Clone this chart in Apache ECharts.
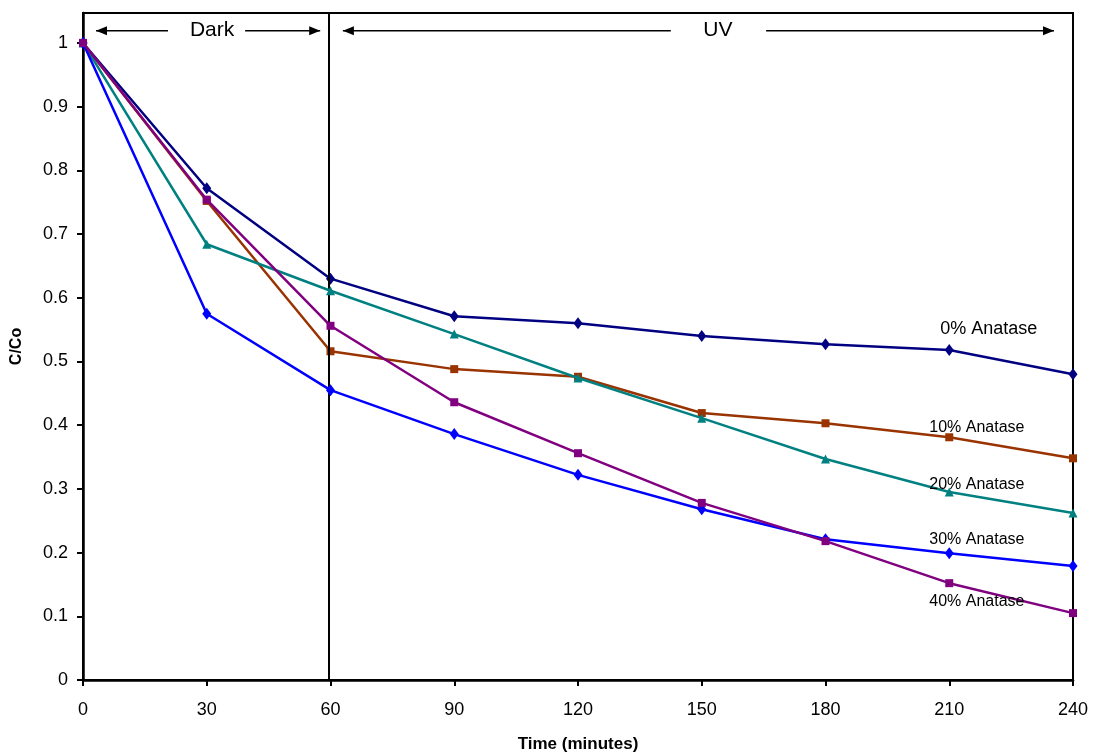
<!DOCTYPE html>
<html>
<head>
<meta charset="utf-8">
<title>C/Co vs time</title>
<script src="https://cdn.jsdelivr.net/npm/echarts@6/dist/echarts.min.js"></script>
<style>
  html, body { margin: 0; padding: 0; background: #ffffff; }
  #chart { width: 1093px; height: 752px; }
</style>
</head>
<body>
<div id="chart"></div>
<script>
// Sampling times (minutes)
const times = [0, 30, 60, 90, 120, 150, 180, 210, 240];

// Relative concentration C/Co for each anatase loading
const anatase0  = [1, 0.772, 0.630, 0.571, 0.560, 0.540, 0.527, 0.518, 0.480];
const anatase10 = [1, 0.752, 0.516, 0.488, 0.476, 0.419, 0.403, 0.381, 0.348];
const anatase20 = [1, 0.684, 0.611, 0.543, 0.474, 0.411, 0.347, 0.295, 0.262];
const anatase30 = [1, 0.575, 0.455, 0.386, 0.322, 0.268, 0.221, 0.199, 0.179];
const anatase40 = [1, 0.754, 0.556, 0.436, 0.356, 0.278, 0.218, 0.152, 0.105];

const seriesNames = ['0% Anatase', '10% Anatase', '20% Anatase', '30% Anatase', '40% Anatase'];
const xTicks = [0, 30, 60, 90, 120, 150, 180, 210, 240];
const yTicks = [0, 0.1, 0.2, 0.3, 0.4, 0.5, 0.6, 0.7, 0.8, 0.9, 1];

// Switch from dark adsorption to UV irradiation
const lampOnTime = 59.5;

const FONT = '"Liberation Sans", Arial, Helvetica, sans-serif';

const styles = [
  { color: '#000080', symbol: 'diamond',  size: [9, 12] },
  { color: '#993300', symbol: 'rect',     size: 8 },
  { color: '#008080', symbol: 'triangle', size: 9 },
  { color: '#0000FF', symbol: 'diamond',  size: [9, 12] },
  { color: '#800080', symbol: 'rect',     size: 8 }
];

// Where each curve's name is written (data coordinates) and its font size
const nameAnchors = [
  { x: 219.6, y: 0.551, size: 18 },
  { x: 216.7, y: 0.396, size: 16 },
  { x: 216.7, y: 0.307, size: 16 },
  { x: 216.7, y: 0.221, size: 16 },
  { x: 216.7, y: 0.123, size: 16 }
];

const allSeries = [anatase0, anatase10, anatase20, anatase30, anatase40];

const chart = echarts.init(document.getElementById('chart'), null, { renderer: 'canvas' });

const series = allSeries.map((vals, i) => ({
  name: seriesNames[i],
  type: 'line',
  data: vals.map((v, k) => [times[k], v]),
  symbol: styles[i].symbol,
  symbolSize: styles[i].size,
  showAllSymbol: true,
  lineStyle: { color: styles[i].color, width: 2.5 },
  itemStyle: { color: styles[i].color },
  z: 3 + i,
  animation: false
}));

// Vertical divider between the dark and UV periods
series[0].markLine = {
  silent: true,
  symbol: 'none',
  label: { show: false },
  lineStyle: { color: '#000000', width: 2, type: 'solid' },
  data: [{ xAxis: lampOnTime }],
  animation: false
};

chart.setOption({
  backgroundColor: '#ffffff',
  animation: false,
  grid: {
    left: 83, right: 20, top: 13, bottom: 72,
    outerBoundsMode: 'none',
    containLabel: false,
    show: true, borderColor: '#000000', borderWidth: 2, backgroundColor: 'transparent'
  },
  xAxis: {
    type: 'value',
    min: 0, max: 240, interval: 30,
    name: 'Time (minutes)',
    nameLocation: 'middle',
    nameGap: 56,
    nameTextStyle: { fontFamily: FONT, fontWeight: 'bold', fontSize: 17, color: '#000' },
    axisLine: { show: true, lineStyle: { color: '#000', width: 2.5 } },
    axisTick: { show: true, inside: false, length: 6, lineStyle: { color: '#000', width: 2 }, customValues: xTicks },
    axisLabel: { fontFamily: FONT, fontSize: 18, color: '#000', margin: 21, customValues: xTicks },
    splitLine: { show: false }
  },
  yAxis: {
    type: 'value',
    min: 0, max: 1.047, interval: 0.1,
    name: 'C/Co',
    nameLocation: 'middle',
    nameGap: 58,
    nameRotate: 90,
    nameTextStyle: { fontFamily: FONT, fontWeight: 'bold', fontSize: 16, color: '#000' },
    axisLine: { show: true, lineStyle: { color: '#000', width: 2.5 } },
    axisTick: { show: true, inside: false, length: 6, lineStyle: { color: '#000', width: 2 }, customValues: yTicks },
    axisLabel: { fontFamily: FONT, fontSize: 18, color: '#000', margin: 15, customValues: yTicks,
                 formatter: v => String(Math.round(v * 10) / 10) },
    splitLine: { show: false }
  },
  series: series
});

// Annotations: period arrows and curve names, placed through the chart's own scales
function px(x, y) { return chart.convertToPixel({ gridIndex: 0 }, [x, y]); }

const arrowY = 1.019;
function arrowLine(x0, x1, headAtStart, headAtEnd) {
  const a = px(x0, arrowY), b = px(x1, arrowY);
  const els = [{
    type: 'line', shape: { x1: a[0], y1: a[1], x2: b[0], y2: b[1] },
    style: { stroke: '#000', lineWidth: 1.5 }, z: 50
  }];
  const head = (tip, dir) => ({
    type: 'polygon',
    shape: { points: [[tip[0], tip[1]], [tip[0] - dir * 11, tip[1] - 4.5], [tip[0] - dir * 11, tip[1] + 4.5]] },
    style: { fill: '#000' }, z: 50
  });
  if (headAtStart) els.push(head(a, -1));
  if (headAtEnd) els.push(head(b, 1));
  return els;
}

const graphics = [];
graphics.push(...arrowLine(3.15, 20.6, true, false));
graphics.push(...arrowLine(39.3, 57.5, false, true));
graphics.push(...arrowLine(63.0, 142.5, true, false));
graphics.push(...arrowLine(165.6, 235.4, false, true));

[['Dark', 31.3], ['UV', 153.9]].forEach(([t, x]) => {
  const p = px(x, arrowY);
  graphics.push({
    type: 'text', x: p[0], y: p[1] - 1, z: 50,
    style: { text: t, fontFamily: FONT, fontSize: 21, fill: '#000', align: 'center', verticalAlign: 'middle' }
  });
});

nameAnchors.forEach((n, i) => {
  const p = px(n.x, n.y);
  graphics.push({
    type: 'text', x: p[0], y: p[1], z: 60,
    style: { text: seriesNames[i], fontFamily: FONT, fontSize: n.size, fill: '#000', align: 'center', verticalAlign: 'middle' }
  });
});

chart.setOption({ graphic: graphics });
</script>
</body>
</html>
